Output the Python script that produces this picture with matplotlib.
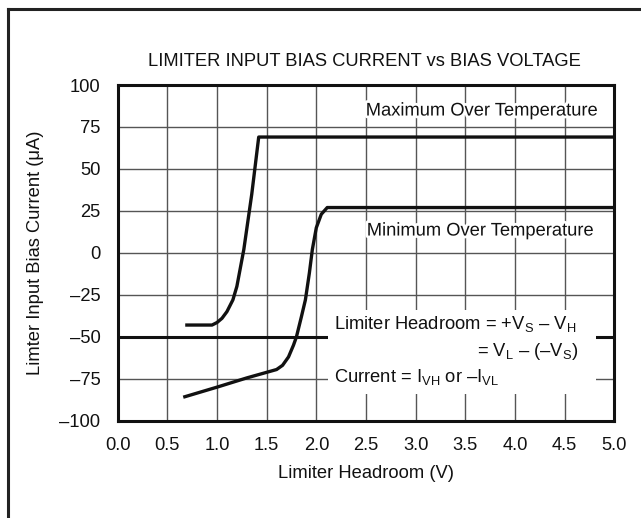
import matplotlib
matplotlib.use("Agg")
import matplotlib.pyplot as plt
from matplotlib.lines import Line2D
from matplotlib.patches import Rectangle
import matplotlib.patheffects as pe

plt.rcParams['font.family'] = ['Liberation Sans', 'DejaVu Sans']
plt.rcParams['mathtext.fontset'] = 'custom'
plt.rcParams['mathtext.rm'] = 'Liberation Sans'
plt.rcParams['mathtext.it'] = 'Liberation Sans:italic'
plt.rcParams['mathtext.bf'] = 'Liberation Sans:bold'

# ---- data ----
x_ticks = [0.0, 0.5, 1.0, 1.5, 2.0, 2.5, 3.0, 3.5, 4.0, 4.5, 5.0]
x_tick_labels = ["0.0", "0.5", "1.0", "1.5", "2.0", "2.5", "3.0", "3.5", "4.0", "4.5", "5.0"]
y_ticks = [-100, -75, -50, -25, 0, 25, 50, 75, 100]
y_tick_labels = ["\u2013100", "\u201375", "\u201350", "\u201325", "0", "25", "50", "75", "100"]

max_x = [0.68, 0.95, 1.00, 1.05, 1.10, 1.16, 1.20, 1.27, 1.35, 1.42, 5.0]
max_y = [-43, -43, -41.5, -39, -35, -28, -20, 2, 35, 69, 69]

min_x = [0.66, 1.00, 1.30, 1.60, 1.66, 1.72, 1.77, 1.80, 1.85, 1.89, 1.93, 1.96, 2.00, 2.05, 2.11, 5.0]
min_y = [-86, -80, -74.5, -69.5, -67, -62, -55, -50, -38, -28, -12, 2, 15, 23, 27, 27]

headroom_ref = -50

title = "LIMITER INPUT BIAS CURRENT vs BIAS VOLTAGE"
xlabel = "Limiter Headroom (V)"
ylabel = "Limter Input Bias Current (\u03bcA)"

FS = 13.2

fig = plt.figure(figsize=(6.41, 5.18), dpi=100)
ax = fig.add_axes([0.1836, 0.1878, 0.7747, 0.6481])

ax.set_xlim(0, 5)
ax.set_ylim(-100, 100)
ax.set_xticks(x_ticks)
ax.set_xticklabels(x_tick_labels)
ax.set_yticks(y_ticks)
ax.set_yticklabels(y_tick_labels)
ax.tick_params(axis='both', length=0, labelsize=FS, colors='#111111')
ax.tick_params(axis='x', pad=12.0)
ax.tick_params(axis='y', pad=12.5)
ax.grid(True, color='#555555', linewidth=1.0, zorder=1)
ax.set_axisbelow(True)
for s in ax.spines.values():
    s.set_linewidth(2.2)
    s.set_color('#111111')
    s.set_zorder(6)

# thick reference line at -50
ax.axhline(headroom_ref, color='#111111', lw=2.2, zorder=2)

# curves
ax.plot(max_x, max_y, color='#111111', lw=2.4, zorder=3, solid_capstyle='butt')
ax.plot(min_x, min_y, color='#111111', lw=2.4, zorder=3, solid_capstyle='butt')

# white box behind headroom annotation
ax.add_patch(Rectangle((2.115, -83.8), 4.82 - 2.115, 49.7, facecolor='white',
                       edgecolor='none', zorder=4))

stroke = [pe.withStroke(linewidth=4, foreground='white')]
ax.text(4.84, 84.5, "Maximum Over Temperature", ha='right', va='center',
        fontsize=FS, color='#111111', zorder=5, path_effects=stroke)
ax.text(4.80, 13, "Minimum Over Temperature", ha='right', va='center',
        fontsize=FS, color='#111111', zorder=5, path_effects=stroke)

ax.text(2.18, -42.5, r"Limiter Headroom = +V$_\mathrm{S}$ \u2013 V$_\mathrm{H}$".replace("\\u2013", "\u2013"),
        ha='left', va='center', fontsize=FS, color='#111111', zorder=5)
ax.text(4.64, -59, r"= V$_\mathrm{L}$ \u2013 (\u2013V$_\mathrm{S}$)".replace("\\u2013", "\u2013"),
        ha='right', va='center', fontsize=FS, color='#111111', zorder=5)
ax.text(2.18, -74, r"Current = I$_\mathrm{VH}$ or \u2013I$_\mathrm{VL}$".replace("\\u2013", "\u2013"),
        ha='left', va='center', fontsize=FS, color='#111111', zorder=5)

ax.set_xlabel(xlabel, fontsize=FS, color='#111111')
ax.xaxis.label.set_va('center')
ax.xaxis.set_label_coords(0.5, -0.156)
ax.set_ylabel(ylabel, fontsize=FS, color='#111111')
ax.yaxis.label.set_va('center')
ax.yaxis.set_label_coords(-0.1665, 0.5)

fig.text(364.5 / 641, 1 - 62 / 518, title, ha='center', va='center',
         fontsize=FS, color='#111111')

# outer figure border (left and top visible)
bx = 7.5 / 641
by = 1 - 8.5 / 518
fig.add_artist(Line2D([bx, bx], [0, by], transform=fig.transFigure,
                      color='#222222', lw=2.2, solid_capstyle='projecting'))
fig.add_artist(Line2D([bx, 1.0], [by, by], transform=fig.transFigure,
                      color='#222222', lw=2.2, solid_capstyle='projecting'))

fig.savefig("out.png", dpi=100)
